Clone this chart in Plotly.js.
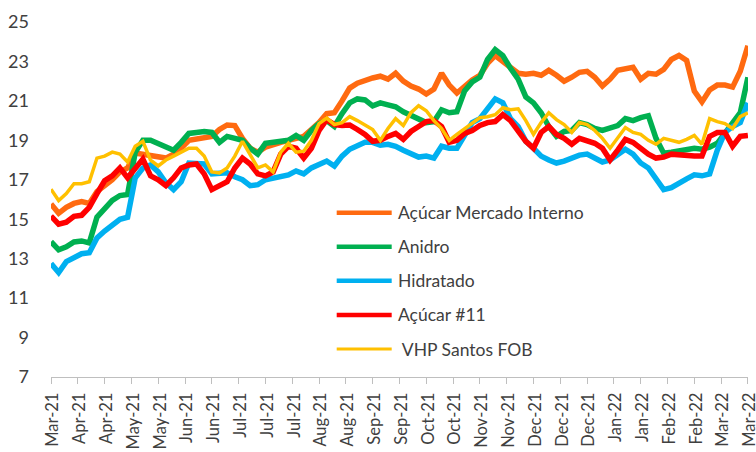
<!DOCTYPE html>
<html><head><meta charset="utf-8">
<script src="https://cdn.plot.ly/plotly-3.0.1.min.js"></script>
<style>html,body{margin:0;padding:0;background:#fff}#chart{width:756px;height:452px}</style>
</head><body><div id="chart"></div>
<script>
const dates = ["2021-03-26","2021-03-30","2021-04-03","2021-04-07","2021-04-11","2021-04-15","2021-04-19","2021-04-23","2021-04-27","2021-05-01",
"2021-05-05","2021-05-09","2021-05-13","2021-05-17","2021-05-21","2021-05-25","2021-05-29","2021-06-02","2021-06-06","2021-06-10",
"2021-06-14","2021-06-18","2021-06-22","2021-06-26","2021-06-30","2021-07-04","2021-07-08","2021-07-12","2021-07-16","2021-07-20",
"2021-07-24","2021-07-28","2021-08-01","2021-08-05","2021-08-09","2021-08-13","2021-08-17","2021-08-21","2021-08-25","2021-08-29",
"2021-09-02","2021-09-06","2021-09-10","2021-09-14","2021-09-18","2021-09-22","2021-09-26","2021-09-30","2021-10-04","2021-10-08",
"2021-10-12","2021-10-16","2021-10-20","2021-10-24","2021-10-28","2021-11-01","2021-11-05","2021-11-09","2021-11-13","2021-11-17",
"2021-11-21","2021-11-25","2021-11-29","2021-12-03","2021-12-07","2021-12-11","2021-12-15","2021-12-19","2021-12-23","2021-12-27",
"2021-12-31","2022-01-04","2022-01-08","2022-01-12","2022-01-16","2022-01-20","2022-01-24","2022-01-28","2022-02-01","2022-02-05",
"2022-02-09","2022-02-13","2022-02-17","2022-02-21","2022-02-25","2022-03-01","2022-03-05","2022-03-09","2022-03-13","2022-03-17",
"2022-03-21","2022-03-25"];

const tickDates = ["2021-03-26","2021-04-09","2021-04-23","2021-05-07","2021-05-21","2021-06-04","2021-06-18","2021-07-02","2021-07-16",
"2021-07-30","2021-08-13","2021-08-27","2021-09-10","2021-09-24","2021-10-08","2021-10-22","2021-11-05","2021-11-19","2021-12-03",
"2021-12-17","2021-12-31","2022-01-14","2022-01-28","2022-02-11","2022-02-25","2022-03-11","2022-03-25"];

const acucarMercadoInterno = [15.77,15.3,15.6,15.8,15.9,15.8,16.4,16.7,17.0,17.4,
17.6,18.35,18.3,18.2,18.15,18.1,18.3,18.6,19.0,19.05,
19.1,19.2,19.55,19.78,19.75,19.1,18.6,18.4,18.65,18.8,
18.9,19.0,19.1,19.2,19.55,19.9,20.35,20.4,21.0,21.65,
21.9,22.06,22.16,22.25,22.1,22.4,22.0,21.75,21.6,21.35,
21.6,22.4,21.8,21.4,21.75,22.06,22.3,22.9,23.3,23.0,
22.7,22.4,22.35,22.4,22.3,22.55,22.3,22.0,22.2,22.45,
22.5,22.2,21.75,22.1,22.55,22.6,22.7,22.1,22.4,22.35,
22.6,23.1,23.3,23.05,21.5,20.95,21.55,21.8,21.8,21.7,
22.5,23.8];

const anidro = [13.86,13.45,13.6,13.85,13.9,13.8,15.1,15.5,15.95,16.2,
16.25,18.4,19.0,19.0,18.85,18.65,18.5,18.9,19.35,19.4,
19.45,19.4,18.9,19.2,19.1,19.0,18.6,18.3,18.85,18.9,
18.9,19.0,19.25,19.0,19.5,19.85,20.0,19.7,20.35,20.9,
21.1,21.05,20.75,20.9,20.8,20.7,20.45,20.25,20.1,19.9,
19.95,20.55,20.4,20.45,21.5,21.96,22.2,23.1,23.6,23.3,
22.65,22.1,21.2,20.9,20.4,19.7,19.2,19.45,19.5,19.9,
19.8,19.6,19.5,19.6,19.75,20.1,20.0,20.15,20.25,19.1,
18.35,18.4,18.45,18.5,18.6,18.55,18.65,18.85,19.4,19.95,
20.4,22.2];

const hidratado = [12.76,12.3,12.85,13.05,13.25,13.3,14.05,14.4,14.7,15.0,
15.1,17.1,17.6,17.75,17.4,16.85,16.5,16.9,17.85,17.85,
17.8,17.3,17.3,17.35,17.15,17.0,16.7,16.75,17.0,17.1,
17.15,17.25,17.45,17.3,17.6,17.75,17.95,17.7,18.2,18.55,
18.7,18.9,18.9,18.75,18.8,18.7,18.5,18.35,18.15,18.2,
18.1,18.7,18.6,18.6,19.3,19.9,20.1,20.65,21.1,20.9,
20.1,19.7,18.95,18.6,18.2,18.0,17.85,17.95,18.1,18.25,
18.3,18.1,17.9,18.0,18.3,18.55,18.3,17.85,17.6,17.1,
16.5,16.6,16.85,17.05,17.25,17.2,17.3,18.5,19.4,19.7,
19.9,20.9];

const acucar11 = [15.16,14.75,14.85,15.15,15.2,15.6,16.3,16.95,17.2,17.6,
17.1,17.6,18.05,17.2,17.0,16.7,17.1,17.6,17.75,17.8,
17.3,16.5,16.7,16.9,17.6,18.1,17.8,17.3,17.2,17.4,
18.3,18.7,18.6,18.1,18.6,19.5,20.05,19.8,19.75,19.78,
19.55,19.3,18.95,19.0,19.2,19.35,19.05,19.45,19.7,19.95,
20.0,19.7,18.9,19.0,19.35,19.5,19.75,19.9,19.95,20.3,
20.0,19.45,18.95,18.6,19.4,19.7,19.3,19.1,18.8,19.1,
19.0,18.85,18.6,18.0,18.5,19.05,18.9,18.6,18.3,18.1,
18.15,18.3,18.25,18.2,18.2,18.2,19.2,19.4,19.4,18.7,
19.2,19.25];

const vhpSantosFOB = [16.52,15.95,16.3,16.8,16.8,16.9,18.1,18.2,18.4,18.3,
17.9,18.7,18.95,18.0,17.7,18.0,18.2,18.4,18.6,18.6,
18.2,17.4,17.35,17.6,18.2,18.95,18.3,17.6,17.75,17.4,
18.4,18.85,18.4,18.45,19.0,19.85,20.13,19.8,19.9,20.2,
20.0,19.75,19.55,19.0,19.6,20.1,19.75,20.4,20.75,20.5,
20.0,19.6,19.0,19.3,19.6,19.9,20.15,20.2,20.3,20.65,
20.55,20.6,20.0,19.3,19.9,20.4,20.05,19.8,19.4,19.9,
19.8,19.5,19.1,18.6,19.1,19.65,19.4,19.3,19.0,18.8,
19.1,19.0,18.9,19.05,19.25,18.8,20.1,19.95,19.85,19.6,
20.2,20.4];

const seriesNames = ["Açúcar Mercado Interno","Anidro","Hidratado","Açúcar #11"," VHP Santos FOB"];
const seriesValues = [acucarMercadoInterno, anidro, hidratado, acucar11, vhpSantosFOB];
const seriesColors = ["#FF6A10","#00B050","#00B0F0","#FF0000","#FFC000"];
const seriesWidths = [5.5,5.5,5.5,5.5,3.5];

const traces = seriesNames.map((n,i)=>({
  x: dates, y: seriesValues[i], name: n.trim(), type:'scatter', mode:'lines',
  line:{color:seriesColors[i], width:seriesWidths[i]}, showlegend:false
}));

// custom legend (long line symbols like the original)
const legTop = 0.4628, legStep = 0.0960;
const shapes = [], annotations = [];
seriesNames.forEach((n,i)=>{
  const yy = legTop - i*legStep;
  shapes.push({type:'line', xref:'paper', yref:'paper', x0:0.4099, x1:0.4888, y0:yy, y1:yy,
    line:{color:seriesColors[i], width: i===4 ? 3 : 4.5}});
  annotations.push({xref:'paper', yref:'paper', x:0.4949, y:yy, xanchor:'left', yanchor:'middle',
    text:n, showarrow:false, font:{family:'Lato, sans-serif', size:17.5, color:'#404040'}});
});

const layout = {
  width:756, height:452,
  margin:{l:51, r:7.5, t:22, b:75, pad:0},
  paper_bgcolor:'#fff', plot_bgcolor:'#fff',
  font:{family:'Lato, sans-serif', size:18, color:'#404040'},
  showlegend:false,
  xaxis:{type:'date', range:['2021-03-26','2022-03-25 01:00'], tickmode:'array', tickvals:tickDates,
    tickformat:'%b-%y', tickangle:-90, ticks:'outside', ticklen:6, tickcolor:'#BFBFBF',
    ticklabeloverflow:'allow', ticklabelshift:2, ticklabelstandoff:2,
    showline:true, linecolor:'#BFBFBF', linewidth:1, showgrid:false, zeroline:false,
    tickfont:{family:'Lato, sans-serif', size:16.5, color:'#404040'}},
  yaxis:{range:[7,25], dtick:2, tick0:7, showgrid:false, zeroline:false, showline:false, ticks:'',
    ticklabelstandoff:21, tickfont:{family:'Lato, sans-serif', size:18, color:'#404040'}},
  shapes: shapes, annotations: annotations
};
Plotly.newPlot('chart', traces, layout, {displayModeBar:false, staticPlot:true});
</script></body></html>
